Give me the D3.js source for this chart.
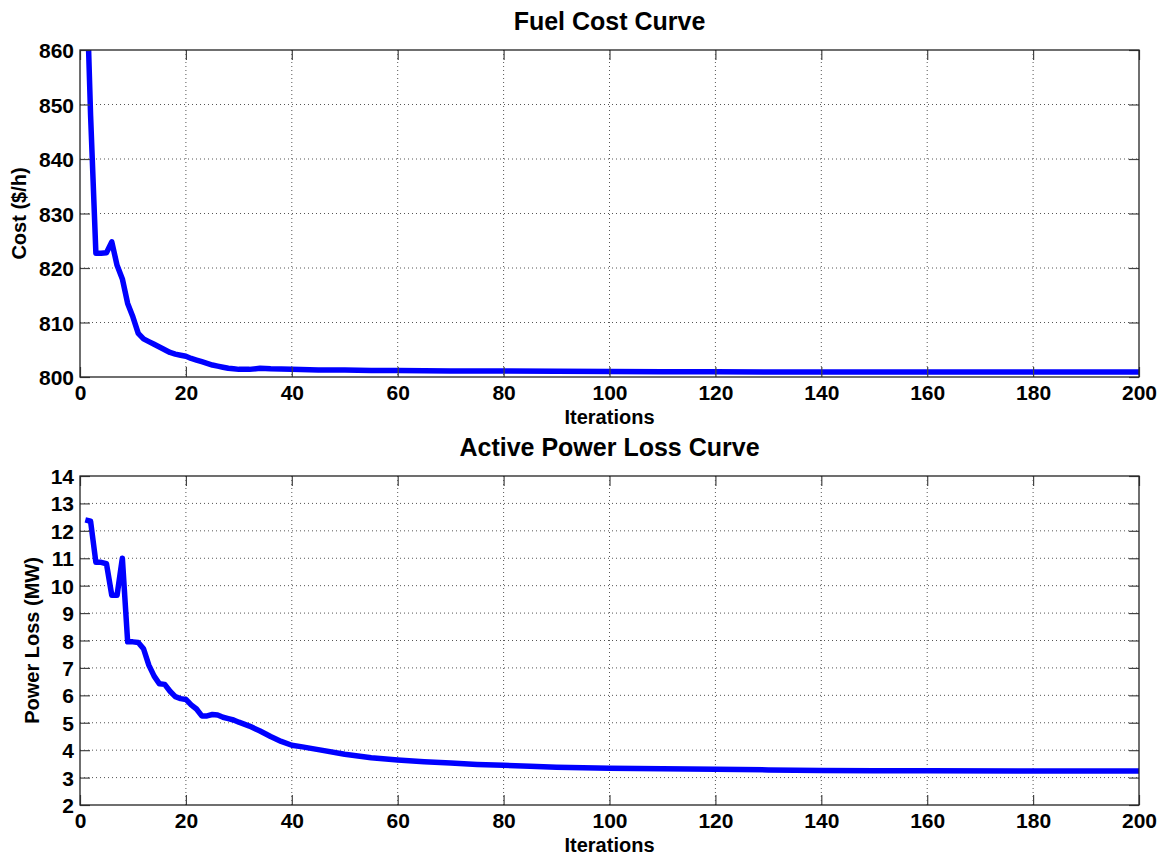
<!DOCTYPE html>
<html>
<head>
<meta charset="utf-8">
<script src="https://cdn.jsdelivr.net/npm/d3@7"></script>
<style>
  html, body { margin: 0; padding: 0; background: #fff; }
  svg { display: block; }
  text { font-family: "Liberation Sans", Arial, sans-serif; font-weight: bold; fill: #000; }
</style>
</head>
<body>
<svg id="chart" width="1163" height="856"></svg>
<script>
// ---- data ----
const costIter = [1,2,3,4,5,6,7,8,9,10,11,12,13,14,15,16,17,18,19,20,21,22,23,24,25,26,27,28,29,30,32,34,36,40,45,50,55,60,65,70,80,90,100,110,120,130,140,150,160,180,200];
const costVals = [880,848,822.7,822.7,822.8,824.8,820.5,818,813.5,811,808,807,806.5,806,805.5,805,804.5,804.2,804,803.8,803.4,803.1,802.8,802.5,802.2,802,801.8,801.6,801.5,801.4,801.4,801.6,801.5,801.4,801.3,801.3,801.2,801.2,801.15,801.1,801.1,801.05,801.0,800.95,800.95,800.9,800.9,800.9,800.9,800.9,800.9];

const lossIter = [1,2,3,4,5,6,7,8,9,10,11,12,13,14,15,16,17,18,19,20,21,22,23,24,25,26,27,28,29,30,32,34,36,38,40,42,45,50,55,60,65,70,75,80,85,90,100,110,120,130,140,150,160,180,200];
const lossVals = [12.4,12.35,10.85,10.85,10.8,9.65,9.65,11.0,7.95,7.95,7.93,7.7,7.1,6.7,6.42,6.4,6.15,5.95,5.88,5.85,5.65,5.5,5.25,5.25,5.3,5.28,5.2,5.15,5.1,5.02,4.88,4.7,4.5,4.32,4.18,4.12,4.02,3.85,3.72,3.64,3.58,3.53,3.48,3.45,3.41,3.38,3.34,3.32,3.30,3.28,3.26,3.25,3.25,3.24,3.24];

const xTicks = [0,20,40,60,80,100,120,140,160,180,200];
const costTicks = [800,810,820,830,840,850,860];
const lossTicks = [2,3,4,5,6,7,8,9,10,11,12,13,14];

const titles = ["Fuel Cost Curve", "Active Power Loss Curve"];
const yLabels = ["Cost ($/h)", "Power Loss (MW)"];
const xLabel = "Iterations";

// ---- drawing ----
const svg = d3.select("#chart");

function panel(cfg) {
  const {left, right, top, bottom, xs, ys, yDomain, yTicks, title, ylab, ylabX, id} = cfg;
  const x = d3.scaleLinear().domain([0, 200]).range([left, right]);
  const y = d3.scaleLinear().domain(yDomain).range([bottom, top]);
  const g = svg.append("g");

  g.append("clipPath").attr("id", id).append("rect")
    .attr("x", left).attr("y", top).attr("width", right - left).attr("height", bottom - top);

  // grid
  g.selectAll(".gx").data(xTicks.slice(1, -1)).enter().append("line")
    .attr("x1", d => x(d)).attr("x2", d => x(d)).attr("y1", top).attr("y2", bottom)
    .attr("stroke", "#555").attr("stroke-width", 1).attr("stroke-dasharray", "1,3");
  g.selectAll(".gy").data(yTicks.slice(1, -1)).enter().append("line")
    .attr("y1", d => y(d)).attr("y2", d => y(d)).attr("x1", left).attr("x2", right)
    .attr("stroke", "#555").attr("stroke-width", 1).attr("stroke-dasharray", "1,3");

  // line
  const pts = xs.map((d, i) => [d, ys[i]]);
  g.append("path").datum(pts)
    .attr("clip-path", `url(#${id})`)
    .attr("fill", "none").attr("stroke", "#0000ff").attr("stroke-width", 5.5)
    .attr("stroke-linejoin", "round").attr("stroke-linecap", "butt")
    .attr("d", d3.line().x(d => x(d[0])).y(d => y(d[1])));

  // axes (inward ticks)
  const tl = 10;
  const ax = g.append("g").attr("transform", `translate(0,${bottom})`)
    .call(d3.axisBottom(x).tickValues(xTicks).tickSizeInner(-tl).tickSizeOuter(0).tickPadding(8));
  const axT = g.append("g").attr("transform", `translate(0,${top})`)
    .call(d3.axisTop(x).tickValues(xTicks).tickSizeInner(-tl).tickSizeOuter(0).tickFormat(""));
  const ay = g.append("g").attr("transform", `translate(${left},0)`)
    .call(d3.axisLeft(y).tickValues(yTicks).tickSizeInner(-tl).tickSizeOuter(0).tickPadding(6));
  const ayR = g.append("g").attr("transform", `translate(${right},0)`)
    .call(d3.axisRight(y).tickValues(yTicks).tickSizeInner(-tl).tickSizeOuter(0).tickFormat(""));
  [ax, axT, ay, ayR].forEach(a => {
    a.select(".domain").remove();
    a.selectAll("line").attr("stroke", "#444").attr("stroke-width", 1.2);
    a.selectAll("text").attr("font-size", 21).attr("font-family", "Liberation Sans, Arial, sans-serif")
      .attr("font-weight", "bold").attr("fill", "#000");
  });
  ax.selectAll("text").attr("dy", "0.71em");
  ay.selectAll("text").attr("dy", "0.36em");

  // box
  g.append("rect").attr("x", left).attr("y", top).attr("width", right - left).attr("height", bottom - top)
    .attr("fill", "none").attr("stroke", "#222").attr("stroke-width", 1.3);

  // title
  g.append("text").attr("x", (left + right) / 2).attr("y", top - 20)
    .attr("text-anchor", "middle").attr("font-size", 25).text(title);
  // x label
  g.append("text").attr("x", (left + right) / 2).attr("y", bottom + 47)
    .attr("text-anchor", "middle").attr("font-size", 20).text(xLabel);
  // y label
  g.append("text").attr("transform", `translate(${ylabX},${(top + bottom) / 2}) rotate(-90)`)
    .attr("text-anchor", "middle").attr("font-size", 20).text(ylab);
}

panel({left: 80, right: 1139, top: 50, bottom: 377, xs: costIter, ys: costVals,
  yDomain: [800, 860], yTicks: costTicks, title: titles[0], ylab: yLabels[0], ylabX: 26, id: "clipTop"});
panel({left: 80, right: 1139, top: 476, bottom: 805, xs: lossIter, ys: lossVals,
  yDomain: [2, 14], yTicks: lossTicks, title: titles[1], ylab: yLabels[1], ylabX: 39, id: "clipBot"});
</script>
</body>
</html>
